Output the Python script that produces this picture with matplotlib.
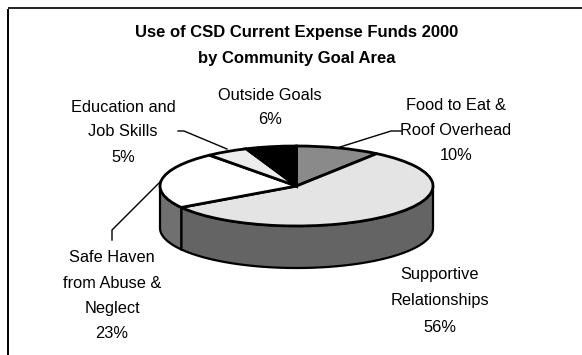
import numpy as np
import matplotlib
matplotlib.use("Agg")
import matplotlib.pyplot as plt
from matplotlib.patches import Polygon

# ---- data ----
categories = ["Food to Eat &\nRoof Overhead", "Supportive\nRelationships",
              "Safe Haven\nfrom Abuse &\nNeglect", "Education and\nJob Skills",
              "Outside Goals"]
values = [10, 56, 23, 5, 6]
title_lines = ["Use of CSD Current Expense Funds 2000", "by Community Goal Area"]

# ---- styling ----
top_colors = ["#8a8a8a", "#e4e4e4", "#ffffff", "#ececec", "#000000"]
side_colors = ["#5a5a5a", "#646464", "#707070", "#646464", "#202020"]
# label anchor (pixel x, first-line y, line step)
label_pos = [(456, 106, 24.5), (440, 275, 26), (112, 258, 25), (123, 107, 25), (270, 95, 25)]
leaders = [[(401, 131), (391, 131), (340, 147)],
           None,
           [(112, 240), (112, 230), (160, 182)],
           [(178, 131), (184, 131), (227, 149)],
           None]

plt.rcParams["font.family"] = ["Liberation Sans", "DejaVu Sans"]
W, H = 582, 355
fig = plt.figure(figsize=(W / 100, H / 100), dpi=100)

# overlay axes in pixel coordinates
ov = fig.add_axes([0, 0, 1, 1])
ov.set_xlim(0, W)
ov.set_ylim(H, 0)
ov.axis("off")

# frame
ov.plot([7.5, 7.5], [8.5, H], color="black", lw=1.4, solid_capstyle="butt")
ov.plot([7.5, W], [8.0, 8.0], color="#222222", lw=1.4, solid_capstyle="butt")

# title
for i, t in enumerate(title_lines):
    ov.text(297, 32 + 26 * i, t, ha="center", va="center", fontsize=12.0,
            fontweight="bold", color="black")

# labels
for cat, v, (x, y0, step) in zip(categories, values, label_pos):
    lines = cat.split("\n") + [f"{v}%"]
    for j, ln in enumerate(lines):
        ov.text(x, y0 + step * j, ln, ha="center", va="center", fontsize=11.8,
                color="black")

for ld in leaders:
    if ld:
        xs, ys = zip(*ld)
        ov.plot(xs, ys, color="black", lw=1.0)

# pie axes
left, right, top, bottom = 160, 433, 146, 268
D = 1.05  # depth in units of the vertical radius
ax = fig.add_axes([left / W, (H - bottom) / H, (right - left) / W, (bottom - top) / H])
ax.axis("off")

wedges, _ = ax.pie(values, startangle=90, counterclock=False, colors=top_colors,
                   wedgeprops=dict(edgecolor="black", linewidth=2.0, zorder=3))
for w in wedges:
    w.set_clip_on(False)

# sides: front-visible part of each wedge arc (angles 180..360)
for w, sc in zip(wedges, side_colors):
    t1, t2 = w.theta1, w.theta2
    for off in (-360, 0, 360):
        a = max(t1 + off, 180)
        b = min(t2 + off, 360)
        if b > a:
            t = np.radians(np.linspace(a, b, 80))
            xs = np.cos(t)
            ys = np.sin(t)
            pts = np.concatenate([np.column_stack([xs, ys]),
                                  np.column_stack([xs[::-1], ys[::-1] - D])])
            poly = Polygon(pts, closed=True, facecolor=sc, edgecolor="black",
                           linewidth=1.6, zorder=1, clip_on=False)
            ax.add_patch(poly)

ax.set_aspect("auto")
ax.set_xlim(-1, 1)
ax.set_ylim(-1 - D, 1)

fig.savefig("out.png", dpi=100)
